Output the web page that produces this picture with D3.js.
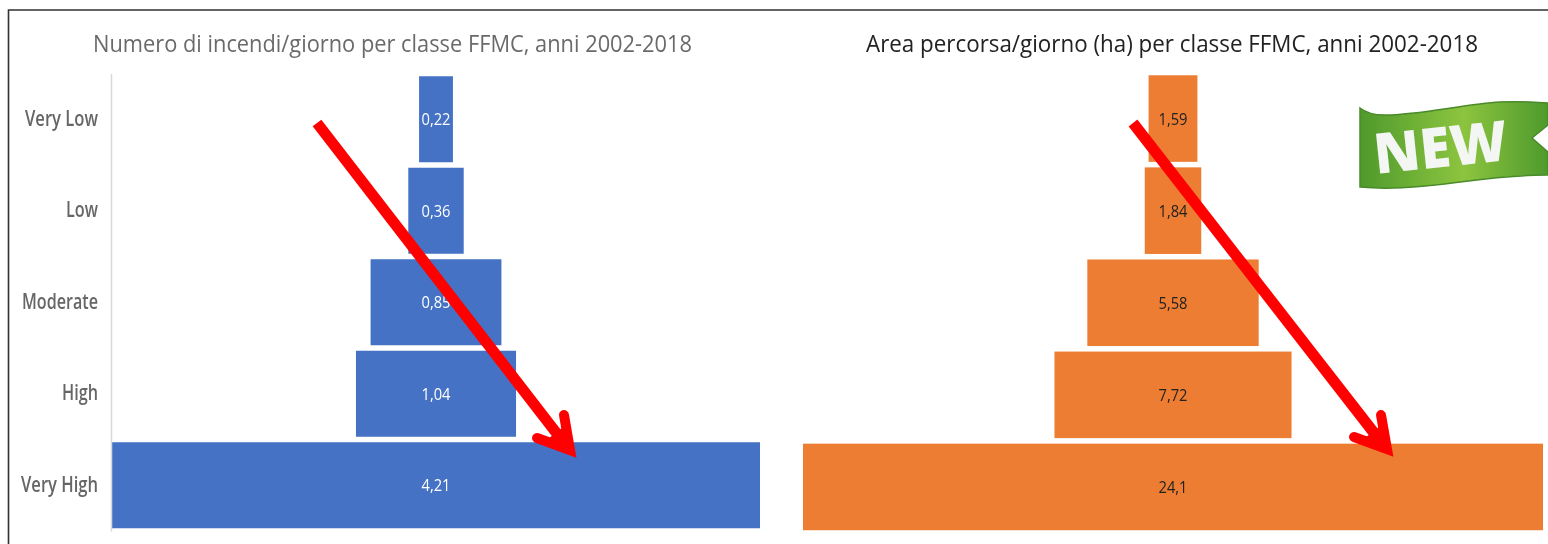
<!DOCTYPE html>
<html><head><meta charset="utf-8">
<script src="https://cdn.jsdelivr.net/npm/d3@7"></script>
<style>html,body{margin:0;padding:0;background:#fff;overflow:hidden}svg{display:block}text{font-family:"Open Sans",sans-serif}</style>
</head><body><svg id="c" width="1548" height="544"></svg>
<script>
const categories = ["Very Low","Low","Moderate","High","Very High"];
const fireCounts = [0.22,0.36,0.85,1.04,4.21];
const burnedArea = [1.59,1.84,5.58,7.72,24.1];
const fireLabels = ["0,22","0,36","0,85","1,04","4,21"];
const areaLabels = ["1,59","1,84","5,58","7,72","24,1"];
const titleLeft = "Numero di incendi/giorno per classe FFMC, anni 2002-2018";
const titleRight = "Area percorsa/giorno (ha) per classe FFMC, anni 2002-2018";

const svg = d3.select("#c");
const defs = svg.append("defs");
defs.append("filter").attr("id","soft").attr("x","-5%").attr("y","-5%").attr("width","110%").attr("height","110%")
  .append("feGaussianBlur").attr("stdDeviation",0.7);
const grad = defs.append("linearGradient").attr("id","ribbon").attr("x1","0").attr("x2","1").attr("y1","0").attr("y2","0");
[[0,"#4f9a2c"],[0.55,"#8cc43f"],[1,"#4f9a2c"]].forEach(s=>grad.append("stop").attr("offset",s[0]).attr("stop-color",s[1]));

const root = svg.append("g").attr("filter","url(#soft)");

// frame
root.append("path").attr("d","M8.5 544V10H1548").attr("fill","none").attr("stroke","#333").attr("stroke-width",1.6);

function panel(cfg){
  const x = d3.scaleLinear().domain([-cfg.max/2,cfg.max/2]).range(cfg.xRange);
  const y = d3.scaleBand().domain(categories).range(cfg.yRange).paddingInner(0.06).paddingOuter(0.03);
  const g = root.append("g");
  g.selectAll("rect").data(cfg.values).join("rect")
    .attr("x",d=>x(-d/2)).attr("width",d=>x(d/2)-x(-d/2))
    .attr("y",(d,i)=>y(categories[i])).attr("height",y.bandwidth())
    .attr("fill",cfg.color);
  g.selectAll("text.v").data(cfg.labels).join("text").attr("class","v")
    .attr("x",x(0)).attr("y",(d,i)=>y(categories[i])+y.bandwidth()/2+6)
    .attr("text-anchor","middle").attr("font-size",17).attr("fill",cfg.labelColor)
    .attr("textLength",29).attr("lengthAdjust","spacingAndGlyphs").text(d=>d);
  root.append("text").attr("x",cfg.titleX).attr("y",52).attr("font-size",24).attr("fill",cfg.titleColor)
    .attr("textLength",cfg.titleW).attr("lengthAdjust","spacingAndGlyphs").text(cfg.title);
  return {x,y};
}
const left = panel({values:fireCounts,labels:fireLabels,max:4.21,xRange:[112,760],yRange:[73.5,531],color:"#4472c4",labelColor:"#fff",
  title:titleLeft,titleX:93,titleW:599,titleColor:"#6b6b6b"});
panel({values:burnedArea,labels:areaLabels,max:24.1,xRange:[803,1543],yRange:[72.5,533],color:"#ed7d31",labelColor:"#222",
  title:titleRight,titleX:866,titleW:612,titleColor:"#222"});

// category axis
const axis = d3.axisLeft(left.y).tickSize(0).tickPadding(13);
const ax = root.append("g").attr("transform","translate(111,0)").call(axis);
ax.select(".domain").attr("stroke","#d9d9d9").attr("stroke-width",1.5);
ax.selectAll("text").attr("font-size",21).attr("font-weight",600).attr("fill","#666").attr("font-family",'"Open Sans",sans-serif')
  .each(function(d){const w={"Very Low":73,"Low":32,"Moderate":76,"High":36,"Very High":77}[d];d3.select(this).attr("textLength",w).attr("lengthAdjust","spacingAndGlyphs");});

// arrows
function arrow(x1,y1,x2,y2,hx1,hy1,hx2,hy2){
  root.append("path").attr("d",`M${x1} ${y1}L${x2-6} ${y2-8}`).attr("stroke","#ff0000").attr("stroke-width",11).attr("fill","none");
  root.append("path").attr("d",`M${hx1} ${hy1}L${x2-4} ${y2-6}L${hx2} ${hy2}`).attr("stroke","#ff0000").attr("stroke-width",10).attr("stroke-linecap","round").attr("stroke-linejoin","miter").attr("fill","none");
  root.append("path").attr("d",`M${x2} ${y2}L${x2-7} ${y2-32}L${x2-30} ${y2-14}Z`).attr("fill","#ff0000");
}
arrow(317,123,574,456,564,415,537,438);
arrow(1133,123,1391,455,1381,415,1354,437);

// NEW ribbon
const rib = root.append("g");
rib.append("path").attr("d","M1360 108C1366 113 1374 115 1385 115C1420 115 1465 104 1500 102C1520 101 1535 102 1548 103V125L1532 138L1548 152V175C1515 175 1490 178 1460 182C1425 187 1390 190 1360 187Z")
  .attr("fill","url(#ribbon)").attr("stroke","#4a8a2a").attr("stroke-width",1.5);
rib.append("text").attr("x",1376).attr("y",174).attr("font-size",56).attr("font-weight",800).attr("fill","#f4f6f4")
  .attr("font-family",'"Open Sans",sans-serif').attr("transform","rotate(-6 1376 174)")
  .attr("textLength",134).attr("lengthAdjust","spacingAndGlyphs").text("NEW");
</script></body></html>
